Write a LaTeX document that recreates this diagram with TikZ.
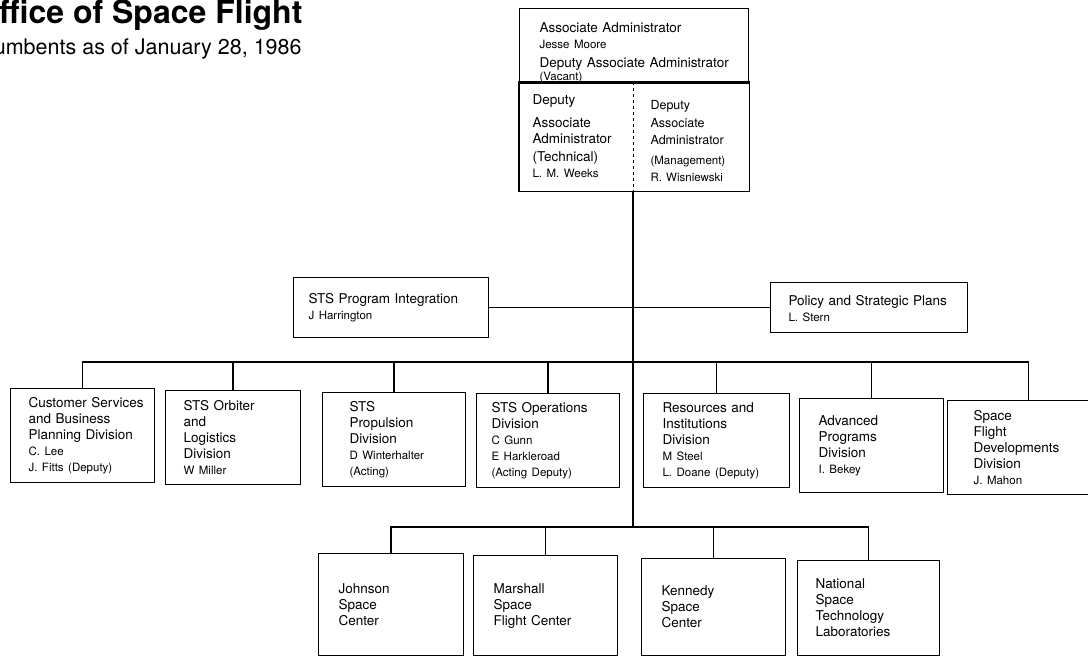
\documentclass[tikz,border=0pt]{standalone}
\usepackage{fontspec}
\setmainfont{TeX Gyre Heros}
\usetikzlibrary{positioning}
\newcommand\who[1]{{\fontsize{11.5}{14}\selectfont #1}}

\begin{document}
\begin{tikzpicture}[x=1pt, y=-1pt,
    unit/.style={draw, line width=1.1pt, anchor=north west, align=left, inner ysep=0pt,
      font=\fontsize{13.5}{16}\selectfont},
    half/.style={unit, draw=none},
    link/.style={line width=1.6pt}]
  \useasboundingbox (0,0) rectangle (1088,657);
  \clip (0,0) rectangle (1088,657);

  \node[anchor=base west, inner sep=0pt, font=\bfseries\fontsize{32}{36}\selectfont] (title) at (-26,23) {Office of Space Flight};
  \node[anchor=base west, inner sep=0pt, font=\fontsize{21.5}{24}\selectfont] (date) at (-35,54) {Incumbents as of January 28, 1986};

  % top office
  \node[unit, minimum width=229pt, minimum height=74pt, text width=189pt, inner xsep=20pt] (aa) at (519,8)
    {\rule{0pt}{24pt}Associate Administrator\\ \who{Jesse Moore}\\[3pt] \mbox{Deputy Associate Administrator}\\[-3pt] \who{(Vacant)}};
  \node[half, minimum width=114pt, minimum height=108pt, text width=88pt, inner xsep=13pt,
    font=\fontsize{13.5}{16.5}\selectfont] (tech) at (519,82)
    {Deputy\\[6pt]Associate\\Administrator\\[1pt](Technical)\\\who{L. M. Weeks}};
  \node[half, minimum width=115pt, minimum height=108pt, text width=81pt, inner xsep=17pt,
    font=\fontsize{12.5}{16.5}\selectfont] (mgmt) at (633,82)
    {\rule{0pt}{18pt}Deputy\\[2pt]Associate\\Administrator\\[4pt]\who{(Management)}\\\who{R. Wisniewski}};
  \draw[line width=1.1pt] (tech.north west) rectangle (mgmt.south east);
  \draw[dashed] (mgmt.north west) -- (mgmt.south west);

  % staff
  \node[unit, minimum width=195pt, minimum height=60pt, text width=165pt, inner xsep=15pt] (pi) at (293,277)
    {STS Program Integration\\ \who{J Harrington}};
  \node[unit, minimum width=197pt, minimum height=50pt, text width=161pt, inner xsep=18pt] (pol) at (770,282)
    {\rule{0pt}{13pt}Policy and Strategic Plans\\ \who{L. Stern}};

  % divisions
  \node[unit, minimum width=144pt, minimum height=94pt, text width=108pt, inner xsep=18pt] (cust) at (10,388)
    {\mbox{Customer Services}\\and Business\\Planning Division\\\who{C. Lee}\\\who{J. Fitts (Deputy)}};
  \node[unit, minimum width=135pt, minimum height=94pt, text width=99pt, inner xsep=18pt] (orb) at (165,390)
    {STS Orbiter\\and\\Logistics\\Division\\\who{W Miller}};
  \node[unit, minimum width=143pt, minimum height=94pt, text width=89pt, inner xsep=27pt] (prop) at (322,392)
    {STS\\Propulsion\\Division\\\who{D Winterhalter}\\\who{(Acting)}};
  \node[unit, minimum width=143pt, minimum height=94pt, text width=113pt, inner xsep=15pt] (ops) at (476,393)
    {STS Operations\\Division\\\who{C Gunn}\\\who{E Harkleroad}\\\who{(Acting Deputy)}};
  \node[unit, minimum width=146pt, minimum height=94pt, text width=108pt, inner xsep=19pt] (res) at (643,393)
    {Resources and\\Institutions\\Division\\\who{M Steel}\\\who{L. Doane (Deputy)}};
  \node[unit, minimum width=144pt, minimum height=94pt, text width=106pt, inner xsep=19pt] (adv) at (799,398)
    {Advanced\\Programs\\Division\\\who{I. Bekey}};
  \node[unit, minimum width=162pt, minimum height=94pt, text width=110pt, inner xsep=26pt] (sfd) at (947,400)
    {Space\\Flight\\Developments\\Division\\\who{J. Mahon}};

  % field centers
  \node[unit, minimum width=145pt, minimum height=102pt, text width=105pt, inner xsep=20pt] (jsc) at (318,553)
    {Johnson\\Space\\Center};
  \node[unit, minimum width=144pt, minimum height=100pt, text width=104pt, inner xsep=20pt] (msfc) at (473,555)
    {Marshall\\Space\\Flight Center};
  \node[unit, minimum width=144pt, minimum height=97pt, text width=104pt, inner xsep=20pt] (ksc) at (641,558)
    {Kennedy\\Space\\Center};
  \node[unit, minimum width=142pt, minimum height=95pt, text width=106pt, inner xsep=18pt] (nstl) at (797,560)
    {National\\Space\\Technology\\Laboratories};

  \coordinate (dbus) at (633,362);
  \coordinate (cbus) at (633,527);
  \draw[link] (mgmt.south west) -- (cbus);
  \draw[link] (pi.east) -- (pol.west);
  \foreach \d in {cust,orb,prop,ops,res,adv,sfd}
    \draw[link] (dbus) -| (\d.north);
  \foreach \c in {jsc,msfc,ksc,nstl}
    \draw[link] (cbus) -| (\c.north);
\end{tikzpicture}
\end{document}
